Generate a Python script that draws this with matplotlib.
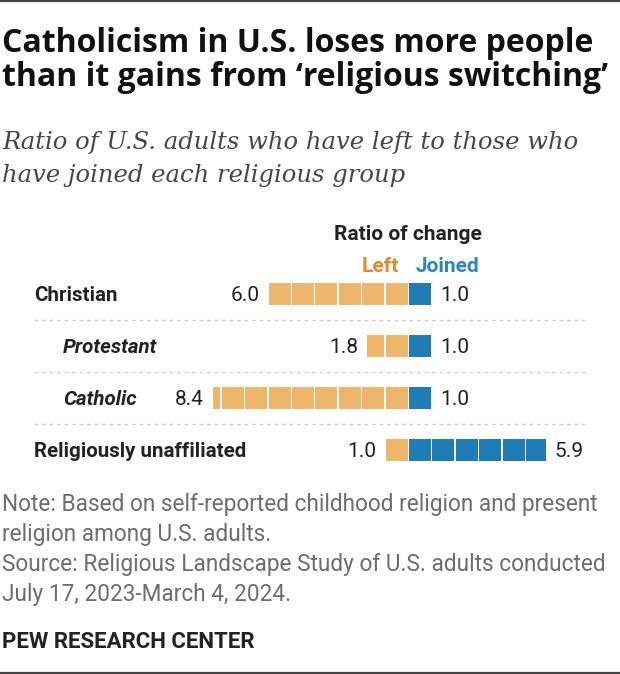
import math
import matplotlib.pyplot as plt

# data
groups = ["Christian", "Protestant", "Catholic", "Religiously unaffiliated"]
italic = [False, True, True, False]
indent = [False, True, True, False]
left = [6.0, 1.8, 8.4, 1.0]
joined = [1.0, 1.0, 1.0, 5.9]

notes = ["Note: Based on self-reported childhood religion and present",
         "religion among U.S. adults.",
         "Source: Religious Landscape Study of U.S. adults conducted",
         "July 17, 2023-March 4, 2024."]

LEFT_C = "#EDB66B"
JOIN_C = "#1F7CB4"
TXT = "#222222"
W, H = 620, 674


def fx(px):
    return px / W


def fy(py):
    return 1 - py / H


fig = plt.figure(figsize=(6.2, 6.74), dpi=100)

# bar axes: x=0 at pixel 408, 23.4 px per unit; rows 52 px apart starting at 294
unit = 23.4
x0 = 408.3
ax = fig.add_axes([fx(x0 - 10 * unit), fy(294 + 52 * 3.5), fx(20 * unit), 52 * 4 / H])
ax.set_xlim(-10, 10)
ax.set_ylim(3.5, -0.5)
ax.axis("off")

gap = 0.065
for i in range(len(groups)):
    n = math.ceil(left[i] - 1e-9)
    for k in range(n):
        b = min(k + 1, left[i])
        ax.barh(i, (b - k) - gap, left=-b + gap / 2, height=0.425, color=LEFT_C, lw=0)
    n = math.ceil(joined[i] - 1e-9)
    for k in range(n):
        b = min(k + 1, joined[i])
        ax.barh(i, (b - k) - gap, left=k + gap / 2, height=0.425, color=JOIN_C, lw=0)
    ax.annotate(f"{left[i]:.1f}", (-left[i], i), xytext=(-6, -4.9), textcoords="offset points",
                ha="right", va="baseline", fontsize=15, color=TXT, family="Roboto")
    ax.annotate(f"{joined[i]:.1f}", (joined[i], i), xytext=(6, -4.9), textcoords="offset points",
                ha="left", va="baseline", fontsize=15, color=TXT, family="Roboto")

# row labels
for i, g in enumerate(groups):
    fig.text(fx(63 if indent[i] else 34), fy(301 + 52 * i), g, ha="left", va="baseline",
             fontsize=14.8, fontweight="bold", style="italic" if italic[i] else "normal",
             color=TXT, family="Roboto")

# separators
for i in range(3):
    y = fy(320 + 52 * i)
    fig.add_artist(plt.Line2D([fx(34), fx(585)], [y, y], color="#cfcfcf", lw=0.9,
                              ls=(0, (3, 3))))

# headers
fig.text(fx(408), fy(239.5), "Ratio of change", ha="center", va="baseline", fontsize=15,
         fontweight="bold", color=TXT, family="Roboto")
fig.text(fx(380.5), fy(271.5), "Left", ha="center", va="baseline", fontsize=15,
         fontweight="bold", color="#E08A2B", family="Roboto")
fig.text(fx(447.5), fy(271.5), "Joined", ha="center", va="baseline", fontsize=15,
         fontweight="bold", color="#2A86BF", family="Roboto")

# title and subtitle
fig.text(fx(2), fy(51.5), "Catholicism in U.S. loses more people", ha="left", va="baseline",
         fontsize=23, fontweight="bold", color="#111111", family="Open Sans")
fig.text(fx(2), fy(86), "than it gains from \u2018religious switching\u2019", ha="left",
         va="baseline", fontsize=23, fontweight="bold", color="#111111", family="Open Sans")
fig.text(fx(2), fy(148.5), "Ratio of U.S. adults who have left to those who", ha="left",
         va="baseline", fontsize=17.5, style="italic", color="#474747", family="DejaVu Serif")
fig.text(fx(2), fy(182.5), "have joined each religious group", ha="left",
         va="baseline", fontsize=17.5, style="italic", color="#474747", family="DejaVu Serif")

# notes
for k, t in enumerate(notes):
    fig.text(fx(2), fy(510.5 + 30 * k), t, ha="left", va="baseline", fontsize=16.3,
             color="#6e6e6e", family="Roboto")
fig.text(fx(2), fy(648), "PEW RESEARCH CENTER", ha="left", va="baseline", fontsize=16,
         fontweight="bold", color=TXT, family="Roboto")

# thin dark frame lines at top and bottom
for y in (fy(1), fy(673)):
    fig.add_artist(plt.Line2D([0, 1], [y, y], color="#444444", lw=1.6))

fig.savefig("out.png", dpi=100, facecolor="white")
